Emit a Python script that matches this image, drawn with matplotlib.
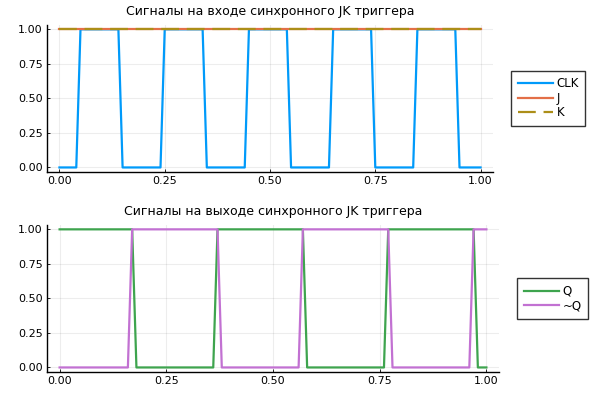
import matplotlib
matplotlib.use("Agg")
import matplotlib.pyplot as plt

# input signals (vertices of the sampled waveforms, step 0.01)
t_clk = [0.0, 0.04, 0.05, 0.14, 0.15, 0.24, 0.25, 0.34, 0.35, 0.44, 0.45, 0.54, 0.55,
         0.64, 0.65, 0.74, 0.75, 0.84, 0.85, 0.94, 0.95, 1.0]
clk = [0, 0, 1, 1, 0, 0, 1, 1, 0, 0, 1, 1, 0, 0, 1, 1, 0, 0, 1, 1, 0, 0]
t_j = [0.0, 1.0]
j_sig = [1, 1]
t_k = [0.0, 1.0]
k_sig = [1, 1]

# output signals
t_q = [0.0, 0.17, 0.18, 0.36, 0.37, 0.57, 0.58, 0.76, 0.77, 0.97, 0.98, 1.0]
q = [1, 1, 0, 0, 1, 1, 0, 0, 1, 1, 0, 0]
t_nq = [0.0, 0.16, 0.17, 0.37, 0.38, 0.56, 0.57, 0.77, 0.78, 0.96, 0.97, 1.0]
nq = [0, 0, 1, 1, 0, 0, 1, 1, 0, 0, 1, 1]

xticks = [0.0, 0.25, 0.5, 0.75, 1.0]
yticks = [0.0, 0.25, 0.5, 0.75, 1.0]

plt.rcParams['font.family'] = ['DejaVu Sans']

fig = plt.figure(figsize=(6, 4), dpi=100)
ax1 = fig.add_axes([0.078, 0.571, 0.744, 0.366])
ax2 = fig.add_axes([0.078, 0.071, 0.754, 0.366])

LW = 1.6


def style(ax, title):
    ax.set_xlim(-0.03, 1.03)
    ax.set_ylim(-0.03, 1.03)
    ax.set_xticks(xticks)
    ax.set_yticks(yticks)
    ax.set_xticklabels([f"{v:.2f}" for v in xticks])
    ax.set_yticklabels([f"{v:.2f}" for v in yticks])
    ax.grid(True, color='black', alpha=0.07, lw=0.8)
    ax.set_axisbelow(True)
    for s in ['top', 'right']:
        ax.spines[s].set_visible(False)
    for s in ['left', 'bottom']:
        ax.spines[s].set_linewidth(1.0)
    ax.tick_params(direction='in', length=2.5, width=0.6, labelsize=8, colors='black', pad=3)
    ax.set_title(title, fontsize=9, pad=7)


def legend(ax, dx):
    ax.legend(loc='center left', bbox_to_anchor=(dx, 0.5), fontsize=8.5, frameon=True,
              fancybox=False, edgecolor='#333333', framealpha=1, handlelength=3.0,
              borderpad=0.55, labelspacing=0.12, handletextpad=0.3, borderaxespad=0.0)


ax1.plot(t_clk, clk, color='#009AFA', lw=LW, label='CLK')
ax1.plot(t_j, j_sig, color='#E36F47', lw=LW, label='J')
ax1.plot(t_k, k_sig, color='#AC8E18', lw=LW, ls=(0, (8, 3.5)), label='K')
style(ax1, 'Сигналы на входе синхронного JK триггера')
legend(ax1, 1.04)

ax2.plot(t_q, q, color='#3EA44E', lw=LW, label='Q')
ax2.plot(t_nq, nq, color='#C271D2', lw=LW, label='~Q')
style(ax2, 'Сигналы на выходе синхронного JK триггера')
legend(ax2, 1.04)

fig.savefig('out.png', dpi=100)
